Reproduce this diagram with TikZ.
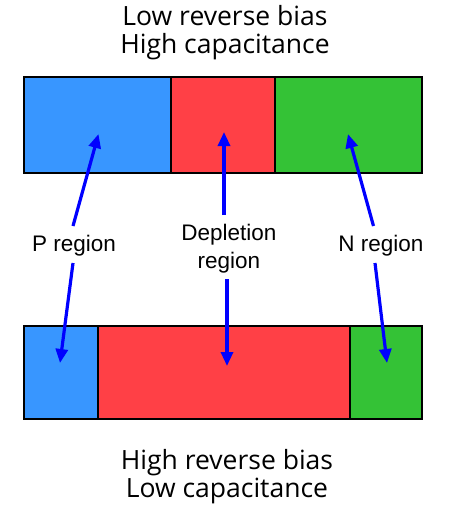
\documentclass[tikz,border=0pt]{standalone}
\usepackage{fontspec}
\setmainfont{Open Sans}
\newfontfamily\lblfont{Liberation Sans}
\usetikzlibrary{arrows.meta}
\definecolor{pblue}{HTML}{3896FF}
\definecolor{dred}{HTML}{FF4046}
\definecolor{ngreen}{HTML}{34C236}
\begin{document}
\begin{tikzpicture}[x=1pt,y=-1pt,
  region/.style={draw=black,line width=2.6pt},
  ptr/.style={draw=blue,line width=3.2pt,-{Triangle[length=14pt,width=12pt]}},
  title/.style={font=\fontsize{26.5}{28}\selectfont,align=center,inner sep=0pt},
  lbl/.style={font=\lblfont\fontsize{22.5}{28}\selectfont,align=center,inner sep=0pt}]
\useasboundingbox (0,0) rectangle (450,509);
% titles
\node[title] (t1) at (225,33) {Low reverse bias\\High capacitance};
\node[title] (t2) at (227,477) {High reverse bias\\Low capacitance};
% top bar
\path[region,fill=pblue] (24,77) rectangle (171,173);
\path[region,fill=dred] (171,77) rectangle (275,173);
\path[region,fill=ngreen] (275,77) rectangle (422,173);
% bottom bar
\path[region,fill=pblue] (24,326) rectangle (98,419);
\path[region,fill=dred] (98,326) rectangle (350,419);
\path[region,fill=ngreen] (350,326) rectangle (422,419);
% labels
\node[lbl] (p) at (74,246) {P region};
\node[lbl] (d) at (229,249) {Depletion\\region};
\node[lbl] (n) at (381,246) {N region};
% arrow ends
\coordinate (pa) at (73,226); \coordinate (pt) at (98.5,134);
\coordinate (pb) at (73,263); \coordinate (pbt) at (60,363);
\coordinate (da) at (224,215); \coordinate (dt) at (224,132);
\coordinate (db) at (227,279); \coordinate (dbt) at (227,366);
\coordinate (na) at (373.5,226); \coordinate (nt) at (348,134);
\coordinate (nb) at (375,263); \coordinate (nbt) at (387,363);
\draw[ptr] (pa) -- (pt);
\draw[ptr] (pb) -- (pbt);
\draw[ptr] (da) -- (dt);
\draw[ptr] (db) -- (dbt);
\draw[ptr] (na) -- (nt);
\draw[ptr] (nb) -- (nbt);
\end{tikzpicture}
\end{document}
